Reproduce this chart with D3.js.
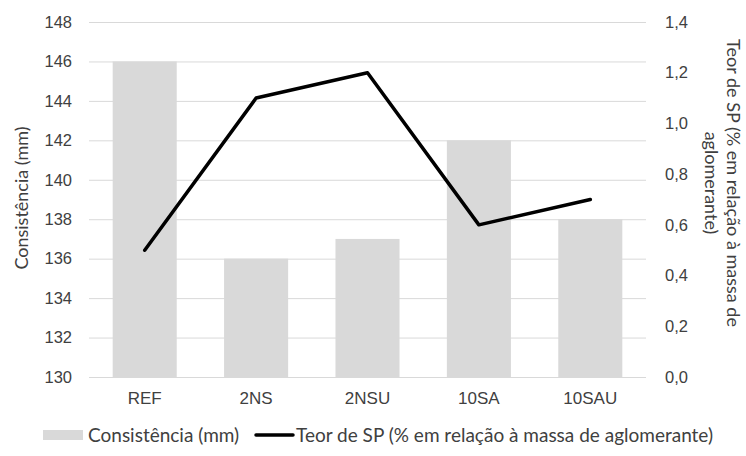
<!DOCTYPE html>
<html>
<head>
<meta charset="utf-8">
<script src="https://cdn.jsdelivr.net/npm/d3@7"></script>
<style>
  html, body { margin: 0; padding: 0; background: #fff; }
  svg { display: block; font-family: Lato, "Open Sans", sans-serif; }
</style>
</head>
<body>
<svg id="chart" width="746" height="456"></svg>
<script>
const categories = ["REF", "2NS", "2NSU", "10SA", "10SAU"];
const consistencia = [146, 136, 137, 142, 138];
const teorSP = [0.5, 1.1, 1.2, 0.6, 0.7];
const leftTicks = [130, 132, 134, 136, 138, 140, 142, 144, 146, 148];
const rightTicks = [0, 0.2, 0.4, 0.6, 0.8, 1.0, 1.2, 1.4];
const seriesNames = ["Consistência (mm)", "Teor de SP (% em relação à massa de aglomerante)"];
const leftTitle = "Consistência (mm)";
const rightTitleLines = ["Teor de SP (% em relação à massa de", "aglomerante)"];

const svg = d3.select("#chart");
const textColor = "#404040";
const barColor = "#d9d9d9";
const gridColor = "#d9d9d9";

const L = 89, R = 646, T = 22, B = 377;

const x = d3.scaleBand().domain(categories).range([L, R]).paddingInner(0.425).paddingOuter(0.2125);
const yL = d3.scaleLinear().domain([130, 148]).range([B, T]);
const yR = d3.scaleLinear().domain([0, 1.4]).range([B, T]);

// gridlines
svg.append("g").selectAll("line").data(leftTicks).join("line")
  .attr("x1", L).attr("x2", R)
  .attr("y1", d => yL(d) + 0.5).attr("y2", d => yL(d) + 0.5)
  .attr("stroke", gridColor).attr("stroke-width", 1);

// bars
svg.append("g").selectAll("rect").data(categories).join("rect")
  .attr("x", d => x(d))
  .attr("width", x.bandwidth())
  .attr("y", (d, i) => yL(consistencia[i]))
  .attr("height", (d, i) => yL(130) - yL(consistencia[i]))
  .attr("fill", barColor);

// line
const line = d3.line()
  .x((d, i) => x(categories[i]) + x.bandwidth() / 2)
  .y(d => yR(d));
svg.append("path").datum(teorSP)
  .attr("d", line)
  .attr("fill", "none")
  .attr("stroke", "#000")
  .attr("stroke-width", 3.5)
  .attr("stroke-linejoin", "round")
  .attr("stroke-linecap", "round");

// left axis
const axL = svg.append("g").attr("transform", `translate(${L},0)`)
  .call(d3.axisLeft(yL).tickValues(leftTicks).tickSize(0).tickPadding(17));
axL.select(".domain").remove();
axL.selectAll("text").attr("fill", textColor).style("font-size", "16.5px");

// right axis
const axR = svg.append("g").attr("transform", `translate(${R},0)`)
  .call(d3.axisRight(yR).tickValues(rightTicks).tickSize(0).tickPadding(19)
    .tickFormat(d => d3.format(".1f")(d).replace(".", ",")));
axR.select(".domain").remove();
axR.selectAll("text").attr("fill", textColor).style("font-size", "16.5px");

// bottom axis
const axB = svg.append("g").attr("transform", `translate(0,${B})`)
  .call(d3.axisBottom(x).tickSize(0).tickPadding(15));
axB.select(".domain").remove();
axB.selectAll("text").attr("fill", textColor).style("font-size", "17px");

// axis titles
svg.append("text")
  .attr("transform", `translate(22,198) rotate(-90)`)
  .attr("text-anchor", "middle")
  .attr("dy", "0.35em")
  .attr("fill", textColor)
  .style("font-size", "18px")
  .text(leftTitle);

const rt = svg.append("text")
  .attr("transform", `translate(733,183) rotate(90)`)
  .attr("text-anchor", "middle")
  .attr("fill", textColor)
  .style("font-size", "18px");
rightTitleLines.forEach((s, i) => {
  rt.append("tspan").attr("x", 0).attr("dy", i === 0 ? "0.35em" : "1.2em").text(s);
});

// legend
const ly = 435;
const lg = svg.append("g");
lg.append("rect").attr("x", 43).attr("y", ly - 5).attr("width", 40).attr("height", 10).attr("fill", barColor);
lg.append("text").attr("x", 88).attr("y", ly).attr("dy", "0.35em")
  .attr("fill", textColor).style("font-size", "19px").text(seriesNames[0]);
lg.append("line").attr("x1", 256).attr("x2", 293).attr("y1", ly).attr("y2", ly)
  .attr("stroke", "#000").attr("stroke-width", 3.5).attr("stroke-linecap", "round");
lg.append("text").attr("x", 296).attr("y", ly).attr("dy", "0.35em")
  .attr("fill", textColor).style("font-size", "19px").text(seriesNames[1]);
</script>
</body>
</html>
